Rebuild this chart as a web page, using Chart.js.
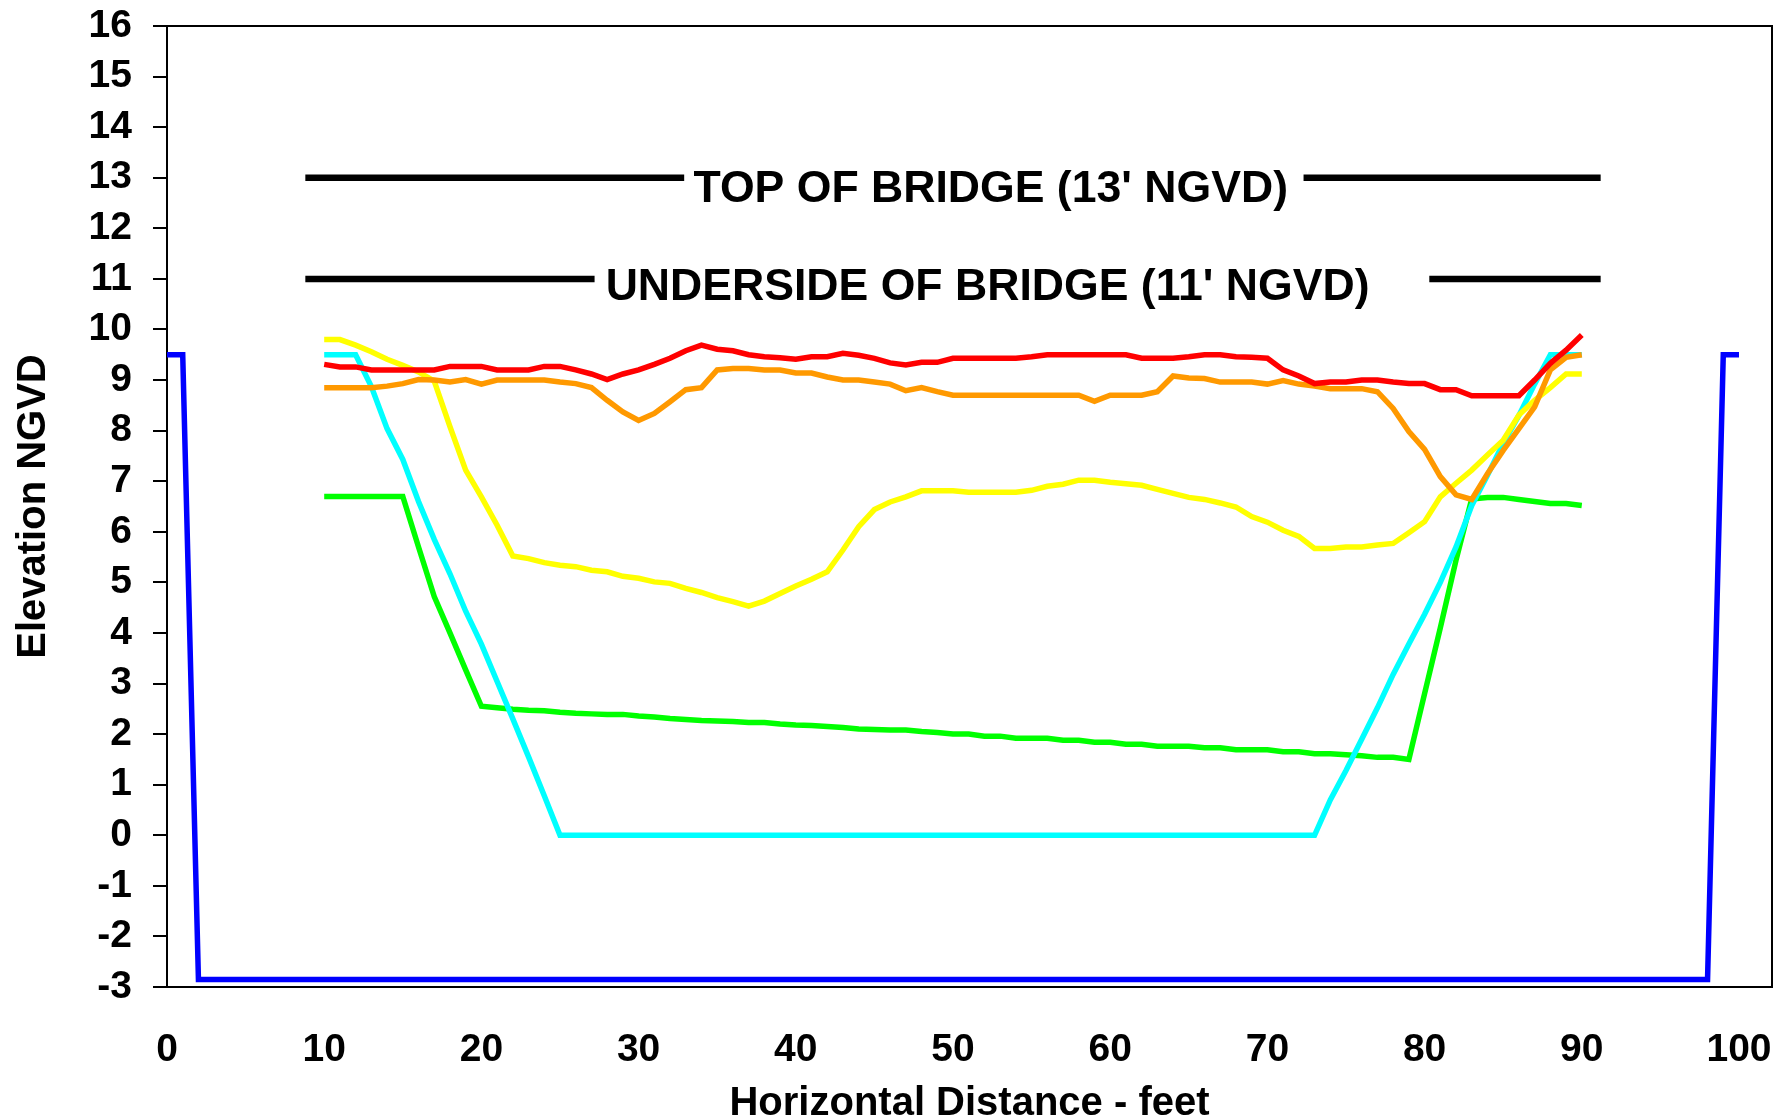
<!DOCTYPE html>
<html>
<head>
<meta charset="utf-8">
<title>Bridge Cross Section</title>
<script src="https://cdn.jsdelivr.net/npm/chart.js@4.4.1/dist/chart.umd.min.js"></script>
<style>
  html, body { margin: 0; padding: 0; background: #fff; }
  #wrap { width: 1777px; height: 1120px; }
</style>
</head>
<body>
<div id="wrap"><canvas id="section" width="1777" height="1120"></canvas></div>
<script>
// Channel cross section under the bridge, elevations in feet NGVD

const stations = [
  10, 11, 12, 13, 14, 15, 16, 17, 18, 19,
  20, 21, 22, 23, 24, 25, 26, 27, 28, 29,
  30, 31, 32, 33, 34, 35, 36, 37, 38, 39,
  40, 41, 42, 43, 44, 45, 46, 47, 48, 49,
  50, 51, 52, 53, 54, 55, 56, 57, 58, 59,
  60, 61, 62, 63, 64, 65, 66, 67, 68, 69,
  70, 71, 72, 73, 74, 75, 76, 77, 78, 79,
  80, 81, 82, 83, 84, 85, 86, 87, 88, 89, 90
];

const redProfile = [
  9.31, 9.26, 9.26, 9.20, 9.20, 9.20, 9.20, 9.20, 9.27, 9.27,
  9.27, 9.20, 9.20, 9.20, 9.27, 9.27, 9.20, 9.12, 9.01, 9.12,
  9.20, 9.31, 9.43, 9.58, 9.69, 9.61, 9.58, 9.50, 9.46, 9.44,
  9.41, 9.46, 9.46, 9.53, 9.49, 9.43, 9.34, 9.30, 9.35, 9.35,
  9.43, 9.43, 9.43, 9.43, 9.43, 9.46, 9.50, 9.50, 9.50, 9.50,
  9.50, 9.50, 9.43, 9.43, 9.43, 9.46, 9.50, 9.50, 9.46, 9.45,
  9.43, 9.20, 9.08, 8.93, 8.96, 8.96, 9.00, 9.00, 8.96, 8.93,
  8.93, 8.81, 8.81, 8.69, 8.69, 8.69, 8.69, 9.00, 9.33, 9.59, 9.89
];

const orangeProfile = [
  8.85, 8.85, 8.85, 8.85, 8.88, 8.93, 9.01, 9.00, 8.96, 9.01,
  8.92, 9.00, 9.00, 9.00, 9.00, 8.96, 8.93, 8.85, 8.60, 8.37,
  8.20, 8.34, 8.57, 8.81, 8.85, 9.20, 9.23, 9.23, 9.20, 9.20,
  9.14, 9.14, 9.06, 9.00, 9.00, 8.96, 8.92, 8.79, 8.85, 8.77,
  8.70, 8.70, 8.70, 8.70, 8.70, 8.70, 8.70, 8.70, 8.70, 8.58,
  8.70, 8.70, 8.70, 8.77, 9.08, 9.04, 9.03, 8.96, 8.96, 8.96,
  8.92, 8.99, 8.92, 8.88, 8.83, 8.83, 8.83, 8.77, 8.44, 7.98,
  7.63, 7.09, 6.73, 6.64, 7.15, 7.61, 8.04, 8.47, 9.20, 9.45, 9.50
];

const yellowProfile = [
  9.80, 9.80, 9.69, 9.56, 9.41, 9.29, 9.16, 8.98, 8.08, 7.22,
  6.69, 6.13, 5.52, 5.47, 5.39, 5.34, 5.31, 5.24, 5.21, 5.12,
  5.08, 5.01, 4.98, 4.88, 4.80, 4.70, 4.62, 4.53, 4.63, 4.78,
  4.93, 5.06, 5.21, 5.64, 6.10, 6.44, 6.59, 6.69, 6.81, 6.81,
  6.81, 6.78, 6.78, 6.78, 6.78, 6.82, 6.90, 6.94, 7.02, 7.02,
  6.98, 6.95, 6.92, 6.84, 6.76, 6.68, 6.64, 6.57, 6.49, 6.30,
  6.19, 6.03, 5.91, 5.67, 5.67, 5.70, 5.70, 5.74, 5.77, 5.98,
  6.20, 6.69, 6.96, 7.22, 7.52, 7.81, 8.31, 8.60, 8.85, 9.12, 9.12
];

const greenProfile = [
  6.70, 6.70, 6.70, 6.70, 6.70, 6.70, 5.70, 4.72, 4.00, 3.27,
  2.55, 2.52, 2.49, 2.47, 2.46, 2.43, 2.41, 2.40, 2.39, 2.39,
  2.36, 2.34, 2.31, 2.29, 2.27, 2.26, 2.25, 2.23, 2.23, 2.20,
  2.18, 2.17, 2.15, 2.13, 2.10, 2.09, 2.08, 2.08, 2.05, 2.03,
  2.00, 2.00, 1.96, 1.96, 1.92, 1.92, 1.92, 1.88, 1.88, 1.84,
  1.84, 1.80, 1.80, 1.76, 1.76, 1.76, 1.73, 1.73, 1.69, 1.69,
  1.69, 1.65, 1.65, 1.61, 1.61, 1.59, 1.57, 1.54, 1.54, 1.50,
  2.80, 4.10, 5.44, 6.65, 6.68, 6.68, 6.64, 6.60, 6.56, 6.56, 6.52
];

const cyanProfile = [
  9.50, 9.50, 9.50, 8.87, 8.04, 7.43, 6.60, 5.85, 5.17, 4.43,
  3.78, 3.04, 2.30, 1.55, 0.78, 0, 0, 0, 0, 0,
  0, 0, 0, 0, 0, 0, 0, 0, 0, 0,
  0, 0, 0, 0, 0, 0, 0, 0, 0, 0,
  0, 0, 0, 0, 0, 0, 0, 0, 0, 0,
  0, 0, 0, 0, 0, 0, 0, 0, 0, 0,
  0, 0, 0, 0, 0.70, 1.28, 1.90, 2.52, 3.18, 3.78,
  4.37, 5.00, 5.70, 6.52, 7.12, 7.75, 8.30, 8.92, 9.50, 9.50, 9.50
];

// bulkhead / channel bottom outline
const wallX = [0, 1, 2, 98, 99, 100];
const wallY = [9.5, 9.5, -2.85, -2.85, 9.5, 9.5];

// bridge deck levels and the stretches of each reference line
const deckLevels = [13, 11];
const deckSpans = [
  [[8.8, 32.9], [72.3, 91.2]],
  [[8.8, 27.2], [80.3, 91.2]]
];
const deckLabels = ["TOP OF BRIDGE (13' NGVD)", "UNDERSIDE OF BRIDGE (11' NGVD)"];

const FONT = "'Liberation Sans', Arial, sans-serif";

const toPoints = (xs, ys) => xs.map((x, i) => ({ x, y: ys[i] }));

function deckLine(level, spans) {
  const pts = [];
  spans.forEach(([a, b], i) => {
    if (i > 0) pts.push({ x: (pts[pts.length - 1].x + a) / 2, y: null });
    pts.push({ x: a, y: level }, { x: b, y: level });
  });
  return pts;
}

function profile(data, color) {
  return {
    data,
    borderColor: color,
    borderWidth: 5.5,
    pointRadius: 0,
    tension: 0,
    fill: false
  };
}

// label placement for the deck captions (data units: centre x, baseline y)
const labelAnchors = [
  { x: 52.4, y: 12.52 },
  { x: 52.2, y: 10.59 }
];

const deckText = {
  id: 'deckText',
  afterDatasetsDraw(chart) {
    const { ctx, scales: { x, y } } = chart;
    ctx.save();
    ctx.fillStyle = '#000';
    ctx.font = 'bold 44.6px ' + FONT;
    ctx.textAlign = 'center';
    ctx.textBaseline = 'alphabetic';
    deckLabels.forEach((t, i) => {
      ctx.fillText(t, x.getPixelForValue(labelAnchors[i].x), y.getPixelForValue(labelAnchors[i].y));
    });
    ctx.restore();
  }
};

const plotFrame = {
  id: 'plotFrame',
  beforeDatasetsDraw(chart) {
    const { ctx, chartArea: a } = chart;
    ctx.save();
    ctx.strokeStyle = '#000';
    ctx.lineWidth = 2;
    ctx.strokeRect(a.left, a.top, a.right - a.left, a.bottom - a.top);
    ctx.restore();
  }
};

const datasets = [
  profile(toPoints(stations, redProfile), '#ff0000'),
  profile(toPoints(stations, orangeProfile), '#ff9900'),
  profile(toPoints(stations, yellowProfile), '#ffff00'),
  profile(toPoints(stations, cyanProfile), '#00ffff'),
  profile(toPoints(stations, greenProfile), '#00ff00'),
  profile(toPoints(wallX, wallY), '#0000ff'),
  ...deckLevels.map((lvl, i) => ({
    data: deckLine(lvl, deckSpans[i]),
    borderColor: '#000',
    borderWidth: 6.5,
    borderCapStyle: 'butt',
    pointRadius: 0,
    spanGaps: false
  }))
];

new Chart(document.getElementById('section'), {
  type: 'line',
  data: { datasets },
  options: {
    responsive: false,
    animation: false,
    events: [],
    layout: { padding: { left: 0, right: 5, top: 26, bottom: 0 } },
    plugins: { legend: { display: false }, tooltip: { enabled: false } },
    scales: {
      x: {
        type: 'linear',
        min: 0,
        max: 102.1,
        border: { display: false },
        grid: { display: false, drawTicks: false },
        ticks: {
          stepSize: 10,
          includeBounds: false,
          autoSkip: false,
          maxRotation: 0,
          padding: 40,
          color: '#000',
          font: { family: FONT, size: 39, weight: 'bold' }
        },
        title: {
          display: true,
          text: 'Horizontal Distance - feet',
          color: '#000',
          font: { family: FONT, size: 40, weight: 'bold', lineHeight: 1 },
          padding: { top: 0, bottom: -4 }
        },
        afterFit: s => { s.height = 133; s.paddingLeft = 0; s.paddingRight = 0; }
      },
      y: {
        type: 'linear',
        min: -3,
        max: 16,
        border: { display: false },
        grid: { drawOnChartArea: false, drawTicks: true, tickLength: 14, color: '#000', lineWidth: 2 },
        ticks: {
          stepSize: 1,
          autoSkip: false,
          padding: 21,
          color: '#000',
          font: { family: FONT, size: 39, weight: 'bold' }
        },
        title: {
          display: true,
          text: 'Elevation NGVD',
          color: '#000',
          font: { family: FONT, size: 40, weight: 'bold' },
          padding: { top: 10, bottom: 0 }
        },
        afterFit: s => { s.width = 167; s.paddingTop = 0; s.paddingBottom = 0; }
      }
    }
  },
  plugins: [plotFrame, deckText]
});
</script>
</body>
</html>
